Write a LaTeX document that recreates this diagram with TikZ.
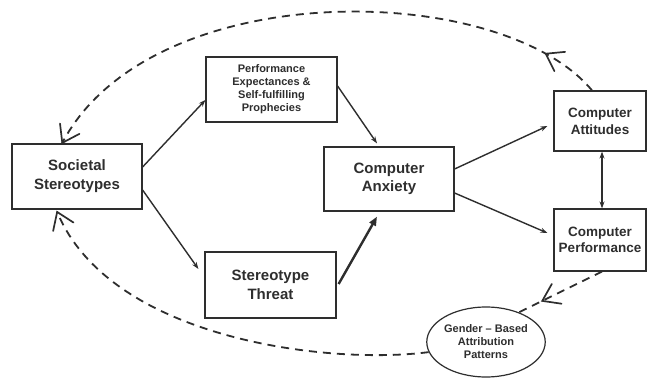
\documentclass[tikz,border=0pt]{standalone}
\usepackage{fontspec}
\setmainfont{Liberation Sans}
\usetikzlibrary{arrows.meta,shapes.geometric,decorations.markings}
\definecolor{ink}{HTML}{2E2E2E}
\begin{document}
\begin{tikzpicture}[x=1pt,y=-1pt,
  box/.style={draw=ink,line width=1.2pt,rectangle,inner sep=0pt,align=center,
    text=ink,font=\bfseries},
  flow/.style={draw=ink,line width=1.4pt,-{Stealth[length=7pt,width=5pt]}},
  loopline/.style={draw=ink,line width=1.8pt,dash pattern=on 8pt off 6pt},
  headat/.style={postaction={decorate,decoration={markings,
    mark=at position #1 with {\draw[ink,solid,line width=1.7pt,line cap=round,line join=miter]
      (-16pt,11pt) -- (0pt,0pt) -- (-16pt,-11pt);}}}}
]
\useasboundingbox[fill=white] (0,0) rectangle (647,377);

% boxes
\node[box,minimum width=130pt,minimum height=65pt,font=\bfseries\fontsize{15}{19}\selectfont]
  (soc) at (77,176.5) {Societal\\Stereotypes};
\node[box,minimum width=131pt,minimum height=65pt,font=\bfseries\fontsize{11}{13}\selectfont]
  (pexp) at (271.5,89.5) {Performance\\Expectances \&\\Self-fulfilling\\Prophecies};
\node[box,minimum width=131pt,minimum height=66pt,font=\bfseries\fontsize{15}{19}\selectfont]
  (threat) at (270.5,285) {Stereotype\\Threat};
\node[box,minimum width=130pt,minimum height=64pt,font=\bfseries\fontsize{15}{18}\selectfont]
  (anx) at (389,179) {Computer\\Anxiety};
\node[box,minimum width=92pt,minimum height=60pt,font=\bfseries\fontsize{13.5}{17}\selectfont]
  (att) at (600,121) {Computer\\Attitudes};
\node[box,minimum width=92pt,minimum height=62pt,font=\bfseries\fontsize{13.5}{15.5}\selectfont]
  (cperf) at (600,240) {Computer\\Performance};
\node[draw=ink,line width=1.2pt,ellipse,minimum width=116pt,minimum height=70pt,inner sep=0pt,
  align=center,text=ink,font=\bfseries\fontsize{11}{13}\selectfont]
  (gen) at (486,342) {Gender -- Based\\Attribution\\Patterns};

% causal paths
\draw[flow] ([yshift=9.5pt]soc.east) -- ([yshift=-10.5pt]pexp.west);
\draw[flow] ([yshift=-13.5pt]soc.east) -- ([xshift=-6pt,yshift=16pt]threat.west);
\draw[flow] ([yshift=3.5pt]pexp.east) -- ([xshift=-12pt,yshift=3pt]anx.north);
\draw[draw=ink,line width=2.4pt,-{Stealth[length=9pt,width=7pt,inset=0pt]}]
  ([xshift=2pt,yshift=1pt]threat.east) -- ([xshift=-12pt,yshift=-5pt]anx.south);
\draw[flow] ([yshift=10pt]anx.east) -- ([xshift=-6pt,yshift=-5pt]att.west);
\draw[flow] ([yshift=-14pt]anx.east) -- ([xshift=-6pt,yshift=7pt]cperf.west);
\draw[draw=ink,line width=1.4pt,{Stealth[length=7pt,width=5pt]}-{Stealth[length=7pt,width=5pt]}]
  ([xshift=2pt]att.south) -- ([xshift=2pt]cperf.north);

% feedback loops
\draw[loopline,headat=0.1,headat=0.999] ([xshift=-8pt]att.north)
  .. controls (500,-20) and (150,-25) .. ([xshift=-15pt]soc.north);
\draw[loopline,headat=0.72] ([xshift=2pt]cperf.south) -- (gen.42);
\draw[loopline,headat=0.999] (gen.190)
  .. controls (330,365) and (110,340) .. ([xshift=-20pt,yshift=-2pt]soc.south);
\end{tikzpicture}
\end{document}
